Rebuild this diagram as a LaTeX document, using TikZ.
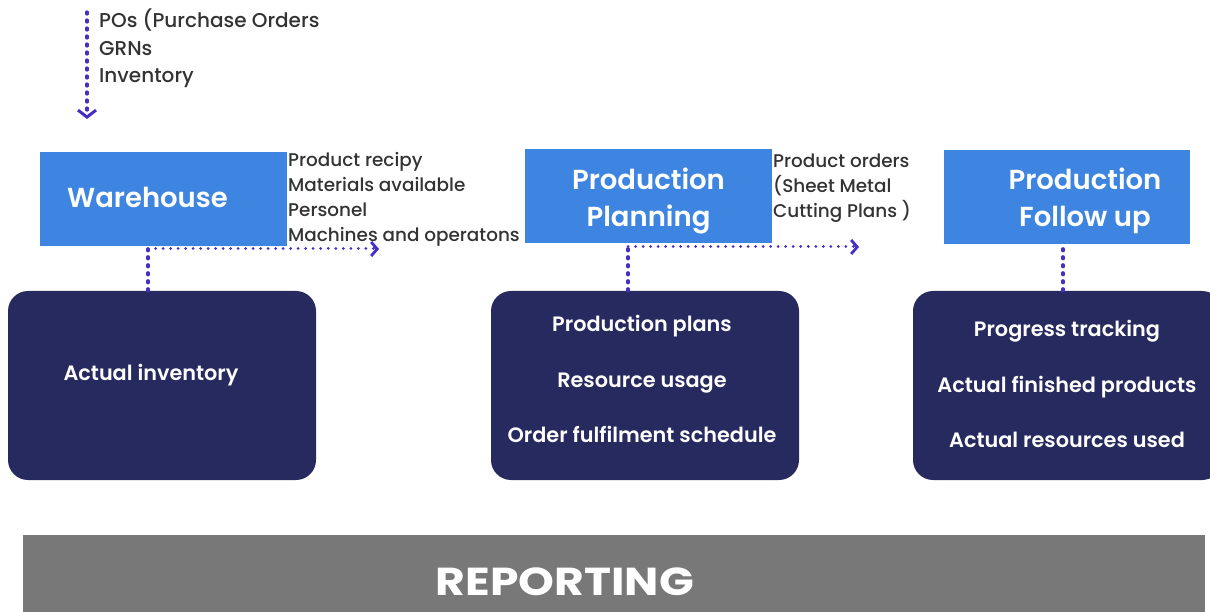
\documentclass[tikz,border=0pt]{standalone}
\usepackage{fontspec}
\setmainfont{Poppins}[BoldFont={Poppins SemiBold}]
\newfontfamily\medfont{Poppins Medium}
\newfontfamily\heavyfont{Poppins Bold}
\usetikzlibrary{arrows.meta}
\definecolor{lblue}{RGB}{61,133,224}
\definecolor{navy}{RGB}{38,42,95}
\definecolor{rgray}{RGB}{120,120,120}
\definecolor{dotc}{RGB}{72,44,200}
\definecolor{txt}{RGB}{51,51,51}
\tikzset{
  headbox/.style={fill=lblue, draw=none, minimum width=247pt, minimum height=94pt, inner sep=0pt},
  darkbox/.style={fill=navy, draw=none, rounded corners=20pt, minimum width=308pt, minimum height=189pt, inner sep=0pt},
  headtxt/.style={text=white, font=\fontsize{27.5}{37}\selectfont\bfseries, align=center, inner sep=0pt},
  darktxt/.style={text=white, font=\fontsize{20.8}{55.5}\selectfont\bfseries, align=center, inner sep=0pt},
  lbl/.style={text=txt, font=\fontsize{18.4}{25}\selectfont\medfont, align=left, anchor=north west, inner sep=0pt},
  dotline/.style={dotc, line width=3pt, line cap=round, dash pattern=on 0.01pt off 7.5pt},
  vdot/.style={dotc, line width=3.2pt, line cap=round, dash pattern=on 2pt off 6pt},
  tip/.style={-{Straight Barb[length=6pt,width=14pt,line width=2.8pt]}},
  bigtip/.style={-{Straight Barb[length=7pt,width=18pt,line width=3pt]}}
}
\begin{document}
\begin{tikzpicture}[x=1pt,y=-1pt]
\useasboundingbox (0,0) rectangle (1210,612);
% head boxes
\node[headbox] (wh) at (163.5,199) {};
\node[headtxt] (whT) at (147.5,197) {Warehouse};
\node[headbox] (pp) at (648.5,196) {};
\node[headtxt] (ppT) at (648.5,201) {Production\\Planning};
\node[headbox, minimum width=246pt] (fu) at (1067,197) {};
\node[headtxt] (fuT) at (1085,201) {Production\\Follow up};
% dark boxes
\node[darkbox] (inv) at (162,385.5) {};
\node[darktxt] (invT) at (151,375) {Actual inventory};
\node[darkbox] (plan) at (645,385.5) {};
\node[darktxt] (planT) at (642,379) {Production plans\\Resource usage\\Order fulfilment schedule};
\node[darkbox, minimum width=309pt] (fol) at (1067.5,385.5) {};
\node[darktxt] (folT) at (1067,384) {Progress tracking\\Actual finished products\\Actual resources used};
% reporting bar
\node[fill=rgray, draw=none, minimum width=1182pt, minimum height=90pt, inner sep=0pt] (rep) at (614,580) {};
\node[text=white, font=\fontsize{39}{40}\selectfont\heavyfont, inner sep=0pt] (repT) at (565,582) {\scalebox{1.17}[1]{REPORTING}};
% labels
\node[lbl, font=\fontsize{20}{27.5}\selectfont\medfont] (inL) at (99,9) {POs (Purchase Orders\\GRNs\\Inventory};
\node[lbl] (whL) at (288,152) {Product recipy\\Materials available\\Personel\\Machines and operatons};
\node[lbl] (ppL) at (773,153.5) {Product orders\\(Sheet Metal\\Cutting Plans )};
% connectors
\coordinate (top) at (87,12);
\coordinate (topE) at (87,119);
\draw[vdot, bigtip] (top) -- (topE);
\coordinate (j1) at (148,249);
\coordinate (a1) at (379,249);
\draw[vdot] (j1 |- inv.north) -- (j1);
\draw[dotline, tip] (j1) -- (a1);
\coordinate (j2) at (628,247);
\coordinate (a2) at (859,247);
\draw[vdot] (j2 |- plan.north) -- (j2);
\draw[dotline, tip] (j2) -- (a2);
\draw[vdot] (fol.north -| 1063,0) -- (fu.south -| 1063,0);
\end{tikzpicture}
\end{document}
